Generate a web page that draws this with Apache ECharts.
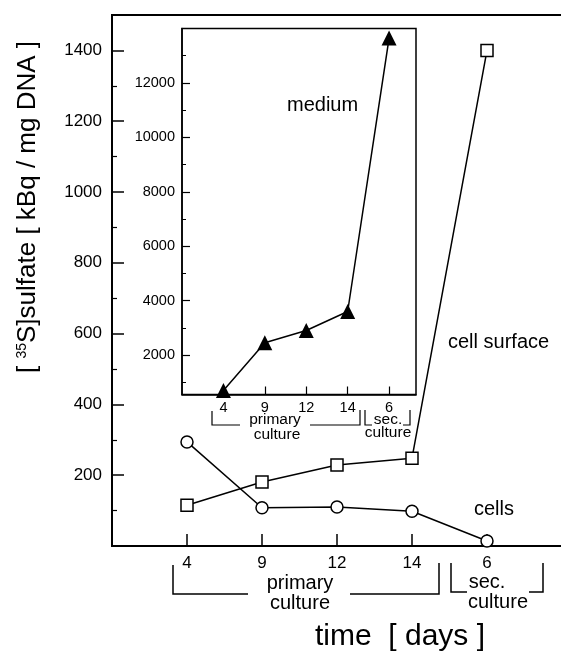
<!DOCTYPE html>
<html><head><meta charset="utf-8">
<script src="https://cdn.jsdelivr.net/npm/echarts@6/dist/echarts.min.js"></script>
<style>html,body{margin:0;padding:0;background:#fff}#c{width:561px;height:654px}</style>
</head><body><div id="c"></div>
<script>
// ---- data ----
const days = ['4', '9', '12', '14', '6'];
const cellSurface = [115, 181, 229, 248, 1400];
const cells = [294, 108, 110, 98, 14];
const medium = [700, 2450, 2900, 3600, 13650];
const mainYLabels = [200, 400, 600, 800, 1000, 1200, 1400];
const mainYMinor = [100, 300, 500, 700, 900, 1100, 1300];
const insetYLabels = [2000, 4000, 6000, 8000, 10000, 12000];
const insetYMinor = [1000, 3000, 5000, 7000, 9000, 11000, 13000];
const dayPos = days.map((d, i) => i + 1);

// ---- chart ----
const FONT = '"Liberation Sans", Arial, Helvetica, sans-serif';
const chart = echarts.init(document.getElementById('c'), null, {renderer: 'canvas'});
const pts = arr => arr.map((v, i) => [dayPos[i], v]);
const plain = v => String(Math.round(v));

const lineCommon = {
  type: 'line', animation: false, clip: false, showAllSymbol: true,
  lineStyle: {color: '#000', width: 1.5},
  emphasis: {disabled: true}
};

function bracket(points, w) {
  return {type: 'polyline', shape: {points: points}, style: {stroke: '#000', lineWidth: w, fill: null}, silent: true};
}
function txt(x, y, s, size, extra) {
  return Object.assign({type: 'text', x: x, y: y, silent: true,
    style: Object.assign({text: s, fontSize: size, fontFamily: FONT, fill: '#000', align: 'center', verticalAlign: 'middle'}, extra || {})});
}

const option = {
  backgroundColor: '#fff',
  animation: false,
  grid: [
    {left: 112, top: 15, width: 450, height: 531, show: true, borderColor: '#000', borderWidth: 2, backgroundColor: 'transparent', containLabel: false, outerBoundsMode: 'none'},
    {left: 182, top: 28.5, width: 234, height: 366, show: true, borderColor: '#000', borderWidth: 1.5, backgroundColor: '#fff', containLabel: false, outerBoundsMode: 'none'}
  ],
  xAxis: [
    {type: 'value', gridIndex: 0, min: 0, max: 6,
     axisLine: {show: true, lineStyle: {color: '#000', width: 2}},
     axisTick: {show: true, inside: true, length: 12, customValues: dayPos, lineStyle: {color: '#000', width: 1.5}},
     axisLabel: {show: true, customValues: dayPos, formatter: v => days[Math.round(v) - 1], fontSize: 17, fontFamily: FONT, color: '#000', margin: 9},
     splitLine: {show: false}},
    {type: 'value', gridIndex: 1, min: 0, max: 5.65,
     axisLine: {show: true, lineStyle: {color: '#000', width: 1.5}},
     axisTick: {show: true, inside: true, length: 8, customValues: dayPos, lineStyle: {color: '#000', width: 1.2}},
     axisLabel: {show: true, customValues: dayPos, formatter: v => days[Math.round(v) - 1], fontSize: 14.5, fontFamily: FONT, color: '#000', margin: 6},
     splitLine: {show: false}}
  ],
  yAxis: [
    {type: 'value', gridIndex: 0, position: 'left', min: 0, max: 1500,
     axisLine: {show: true, lineStyle: {color: '#000', width: 2}},
     axisTick: {show: true, inside: true, length: 12, customValues: mainYLabels, lineStyle: {color: '#000', width: 1.5}},
     axisLabel: {show: true, customValues: mainYLabels, formatter: plain, fontSize: 17, fontFamily: FONT, color: '#000', margin: 10},
     splitLine: {show: false}},
    {type: 'value', gridIndex: 0, position: 'left', offset: 0, min: 0, max: 1500,
     axisLine: {show: false},
     axisTick: {show: true, inside: true, length: 5, customValues: mainYMinor, lineStyle: {color: '#000', width: 1.2}},
     axisLabel: {show: false}, splitLine: {show: false}},
    {type: 'value', gridIndex: 1, position: 'left', min: 550, max: 14000,
     axisLine: {show: true, lineStyle: {color: '#000', width: 1.5}},
     axisTick: {show: true, inside: true, length: 8, customValues: insetYLabels, lineStyle: {color: '#000', width: 1.2}},
     axisLabel: {show: true, customValues: insetYLabels, formatter: plain, fontSize: 14.5, fontFamily: FONT, color: '#000', margin: 7},
     splitLine: {show: false}},
    {type: 'value', gridIndex: 1, position: 'left', offset: 0, min: 550, max: 14000,
     axisLine: {show: false},
     axisTick: {show: true, inside: true, length: 4, customValues: insetYMinor, lineStyle: {color: '#000', width: 1}},
     axisLabel: {show: false}, splitLine: {show: false}}
  ],
  series: [
    Object.assign({}, lineCommon, {name: 'cells', xAxisIndex: 0, yAxisIndex: 0, data: pts(cells),
      symbol: 'circle', symbolSize: 12, itemStyle: {color: '#fff', borderColor: '#000', borderWidth: 1.5}}),
    Object.assign({}, lineCommon, {name: 'cell surface', xAxisIndex: 0, yAxisIndex: 0, data: pts(cellSurface),
      symbol: 'rect', symbolSize: 12, itemStyle: {color: '#fff', borderColor: '#000', borderWidth: 1.5}}),
    Object.assign({}, lineCommon, {name: 'medium', xAxisIndex: 1, yAxisIndex: 2, data: pts(medium),
      symbol: 'triangle', symbolSize: 15, itemStyle: {color: '#000', borderColor: '#000', borderWidth: 0}})
  ],
  graphic: [
    // y-axis title
    {type: 'text', x: 28, y: 207, rotation: Math.PI / 2, silent: true,
     style: {text: '[ {sup|35}S]sulfate [ kBq / mg DNA ]', fontSize: 26, fontFamily: FONT, fill: '#000', align: 'center', verticalAlign: 'middle',
       rich: {sup: {fontSize: 14, fontFamily: FONT, fill: '#000', verticalAlign: 'top'}}}},
    // x-axis title
    txt(400, 637, 'time  [ days ]', 30),
    // series annotations
    txt(287, 105, 'medium', 20, {align: 'left'}),
    txt(448, 342, 'cell surface', 20, {align: 'left'}),
    txt(474, 509, 'cells', 20, {align: 'left'}),
    // main brackets
    bracket([[173, 565], [173, 594], [248, 594]], 1.5),
    bracket([[350, 594], [439, 594], [439, 563]], 1.5),
    bracket([[451, 563], [451, 592], [467, 592]], 1.5),
    bracket([[529, 592], [543, 592], [543, 563]], 1.5),
    txt(300, 583, 'primary', 20),
    txt(300, 603, 'culture', 20),
    txt(487, 582, 'sec.', 20),
    txt(498, 602, 'culture', 20),
    // inset brackets
    bracket([[212, 411], [212, 425], [240, 425]], 1.2),
    bracket([[310, 425], [360, 425], [360, 410]], 1.2),
    bracket([[365, 410], [365, 425], [372, 425]], 1.2),
    bracket([[403, 425], [410, 425], [410, 410]], 1.2),
    txt(275, 420, 'primary', 15.5),
    txt(277, 435, 'culture', 15.5),
    txt(388, 420, 'sec.', 15.5),
    txt(388, 433, 'culture', 15.5)
  ]
};
chart.setOption(option);
</script>
</body></html>
